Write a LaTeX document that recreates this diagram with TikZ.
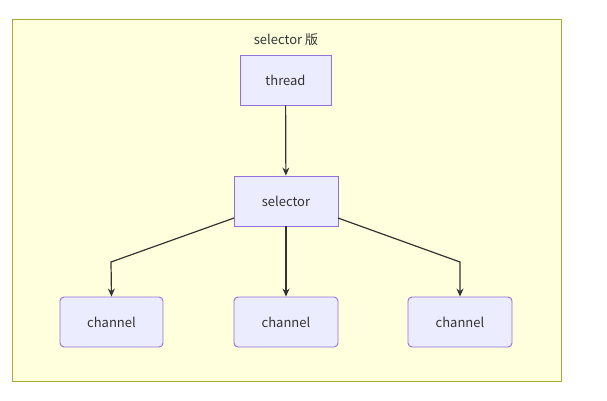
\documentclass[tikz,border=0pt]{standalone}
\usepackage{fontspec}
\setmainfont{Noto Sans CJK SC}
\usetikzlibrary{arrows.meta}
\definecolor{nfill}{HTML}{ECECFF}
\definecolor{nline}{HTML}{9370DB}
\definecolor{cfill}{HTML}{FFFFDE}
\definecolor{cline}{HTML}{AAAA33}
\definecolor{eline}{HTML}{333333}
\begin{document}
\begin{tikzpicture}[x=1pt,y=-1pt,
  box/.style={draw=nline,fill=nfill,line width=0.9pt,minimum width=#1,minimum height=50pt,inner sep=0pt,font=\fontsize{13}{15}\selectfont,text=black!80},
  rbox/.style={box=#1,rounded corners=4pt},
  arr/.style={draw=eline,line width=1.2pt,-{Stealth[length=8pt,width=7pt]}}]
\useasboundingbox (0,0) rectangle (607,400);
\node[draw=cline,fill=cfill,line width=1pt,minimum width=549pt,minimum height=362pt,inner sep=0pt] (cl) at (286.5,200) {};
\node[font=\fontsize{13}{15}\selectfont,text=black!80] (t) at (286,40) {selector 版};
\node[box=91pt] (th) at (285.5,80) {thread};
\node[box=104pt] (se) at (286,201) {selector};
\node[rbox=103pt] (c1) at (111.5,322) {channel};
\node[rbox=104pt] (c2) at (286,322) {channel};
\node[rbox=104pt] (c3) at (460,322) {channel};
\coordinate (k1) at (111,262);
\coordinate (k3) at (460,262);
\draw[arr] (th) -- (se);
\draw[arr] (se.south) -- (c2.north);
\draw[arr] (234,218) -- (k1) -- (c1.north);
\draw[arr] (338,218) -- (k3) -- (c3.north);
\end{tikzpicture}
\end{document}
